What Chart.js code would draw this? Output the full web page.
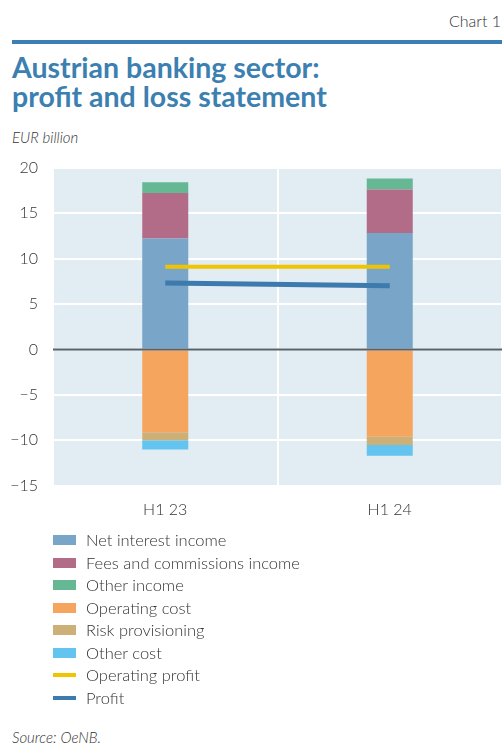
<!DOCTYPE html>
<html>
<head>
<meta charset="utf-8">
<script src="https://cdn.jsdelivr.net/npm/chart.js@4/dist/chart.umd.min.js"></script>
<style>
  body { margin: 0; width: 502px; height: 753px; overflow: hidden; position: relative; background: #fff; font-family: "Lato", "Open Sans", sans-serif; color: #333; }
  .abs { position: absolute; white-space: nowrap; }
  #chartNo { left: 449px; top: 11px; font-size: 16px; font-weight: 300; }
  #rule { left: 12px; top: 40px; width: 490px; height: 4px; background: #3d7fb3; }
  #title { left: 12px; top: 53px; font-size: 28.5px; line-height: 29px; font-weight: 700; color: #3c7fb1; }
  #unit { left: 12px; top: 128px; font-size: 15px; font-style: italic; font-weight: 300; }
  #wrap { left: 0; top: 143px; width: 502px; height: 396px; }
  #legend { left: 53px; top: 529px; font-size: 16.5px; font-weight: 300; }
  #legend div { height: 22.5px; display: flex; align-items: center; }
  #legend span.key { display: inline-block; width: 23px; margin-right: 10px; }
  #source { left: 12px; top: 728px; font-size: 15px; font-style: italic; font-weight: 300; }
</style>
</head>
<body>
<div class="abs" id="chartNo">Chart 1</div>
<div class="abs" id="rule"></div>
<div class="abs" id="title">Austrian banking sector:<br>profit and loss statement</div>
<div class="abs" id="unit">EUR billion</div>
<div class="abs" id="wrap"><canvas id="c"></canvas></div>
<div class="abs" id="legend"></div>
<div class="abs" id="source">Source: OeNB.</div>
<script>
// periods
const periods = ["H1 23", "H1 24"];

// EUR billion, income positive, costs negative
const netInterest = [12.2, 12.8];
const feesCommissions = [5.0, 4.8];
const otherIncome = [1.2, 1.2];
const operatingCost = [-9.1, -9.6];
const riskProvisioning = [-0.9, -0.9];
const otherCost = [-1.0, -1.2];
const operatingProfit = [9.1, 9.1];
const profit = [7.3, 7.0];

const yTicks = { min: -15, max: 20, step: 5 };

function bar(label, data, color) {
  return { type: "bar", label: label, data: data, backgroundColor: color, borderWidth: 0,
           barPercentage: 0.205, categoryPercentage: 1, order: 2 };
}
function line(label, data, color, width, stack) {
  return { type: "line", label: label, data: data, borderColor: color, backgroundColor: color,
           borderWidth: width, pointRadius: 0, borderCapStyle: "butt", stack: stack, order: 1 };
}

const datasets = [
  bar("Net interest income", netInterest, "#78a5c8"),
  bar("Fees and commissions income", feesCommissions, "#b36c88"),
  bar("Other income", otherIncome, "#66b794"),
  bar("Operating cost", operatingCost, "#f5a55d"),
  bar("Risk provisioning", riskProvisioning, "#cdb078"),
  bar("Other cost", otherCost, "#63c5ef"),
  line("Operating profit", operatingProfit, "#f0c400", 4, "op"),
  line("Profit", profit, "#3d7aad", 5, "pr"),
];

const plotBg = {
  id: "plotBg",
  beforeDraw(chart) {
    const a = chart.chartArea, ctx = chart.ctx;
    ctx.save();
    ctx.fillStyle = "#e1ecf3";
    ctx.fillRect(a.left, a.top, a.right - a.left, a.bottom - a.top);
    ctx.restore();
  },
  afterDatasetsDraw(chart) {
    // zero line over the bars
    const a = chart.chartArea, ctx = chart.ctx;
    const y0 = chart.scales.y.getPixelForValue(0);
    ctx.save();
    ctx.strokeStyle = "#59626a";
    ctx.lineWidth = 2;
    ctx.beginPath();
    ctx.moveTo(a.left, y0);
    ctx.lineTo(a.right, y0);
    ctx.stroke();
    ctx.restore();
  }
};

const chart = new Chart(document.getElementById("c"), {
  data: { labels: periods, datasets: datasets },
  options: {
    responsive: true,
    maintainAspectRatio: false,
    animation: false,
    layout: { padding: { top: 11.4, right: 0, bottom: 6, left: 0 } },
    plugins: { legend: { display: false }, tooltip: { enabled: false } },
    scales: {
      x: {
        stacked: true,
        offset: true,
        grid: { color: "#ffffff", lineWidth: 2, drawTicks: false, offset: true },
        border: { display: false },
        ticks: { color: "#333", padding: 14, font: { family: "Lato", size: 16, weight: 300 } }
      },
      y: {
        stacked: true,
        min: yTicks.min,
        max: yTicks.max,
        afterFit(scale) { scale.width = 53; },
        grid: { color: "#ffffff", lineWidth: 2, drawTicks: false },
        border: { display: false },
        ticks: {
          stepSize: yTicks.step,
          color: "#333",
          padding: 15,
          font: { family: "Lato", size: 16, weight: 300 },
          callback: v => String(v).replace("-", "\u2212")
        }
      }
    }
  },
  plugins: [plotBg]
});

// legend built from the datasets
const legend = document.getElementById("legend");
chart.data.datasets.forEach(ds => {
  const row = document.createElement("div");
  const key = document.createElement("span");
  key.className = "key";
  key.style.background = ds.type === "line" ? ds.borderColor : ds.backgroundColor;
  key.style.height = ds.type === "line" ? "4px" : "10px";
  row.appendChild(key);
  row.appendChild(document.createTextNode(ds.label));
  legend.appendChild(row);
});
</script>
</body>
</html>
